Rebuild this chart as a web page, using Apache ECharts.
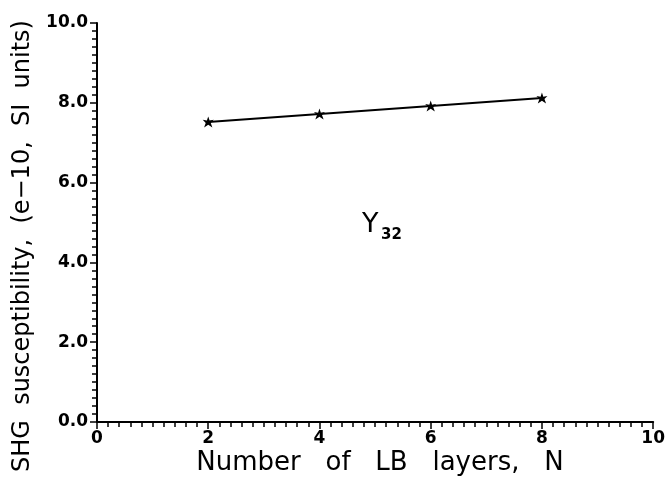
<!DOCTYPE html>
<html>
<head>
<meta charset="utf-8">
<script src="https://cdn.jsdelivr.net/npm/echarts@6/dist/echarts.min.js"></script>
<style>
  html, body { margin: 0; padding: 0; background: #fff; }
  #chart { width: 668px; height: 479px; }
</style>
</head>
<body>
<div id="chart"></div>
<script>
// number of LB layers and measured SHG susceptibility (e-10 SI units)
const layers = [2, 4, 6, 8]
const chi = [7.52, 7.72, 7.92, 8.12]

const xTitle = 'Number   of   LB   layers,   N'
const yTitle = 'SHG  susceptibility,  (e\u221210,  SI  units)'

const star = 'path://M0,-5 L1.2,-1.6 L4.8,-2.2 L2.2,0.3 L3.6,4 L0,1.8 L-3.6,4 L-2.2,0.3 L-4.8,-2.2 L-1.2,-1.6 Z'

const chart = echarts.init(document.getElementById('chart'))
const font = 'DejaVu Sans, sans-serif'

const tickStyle = { color: '#000', width: 1.5 }
const labelStyle = { color: '#000', fontFamily: font, fontWeight: 'bold', fontSize: 17 }

chart.setOption({
  animation: false,
  grid: { left: 97, right: 10, top: 23, bottom: 57 },
  xAxis: {
    type: 'value',
    min: 0,
    max: 10,
    interval: 2,
    axisLine: { lineStyle: { color: '#000', width: 2 } },
    axisTick: { length: 7, lineStyle: tickStyle },
    minorTick: { show: true, splitNumber: 10, length: 5, lineStyle: tickStyle },
    splitLine: { show: false },
    axisLabel: { ...labelStyle, margin: 8 },
  },
  yAxis: {
    type: 'value',
    min: 0,
    max: 10,
    interval: 2,
    axisLine: { lineStyle: { color: '#000', width: 2 } },
    axisTick: { length: 7, lineStyle: tickStyle },
    minorTick: { show: true, splitNumber: 10, length: 5, lineStyle: tickStyle },
    splitLine: { show: false },
    axisLabel: { ...labelStyle, margin: 9, formatter: v => v.toFixed(1) },
  },
  series: [
    {
      type: 'line',
      data: layers.map((n, i) => [n, chi[i]]),
      symbol: star,
      symbolSize: 11,
      itemStyle: { color: '#000' },
      lineStyle: { color: '#000', width: 2 },
    },
  ],
  graphic: [
    {
      type: 'text',
      x: 362,
      y: 225,
      style: { text: 'Y', fontFamily: font, fontSize: 27, fill: '#000', verticalAlign: 'middle' },
    },
    {
      type: 'text',
      x: 381,
      y: 235,
      style: { text: '32', fontFamily: font, fontSize: 15, fontWeight: 'bold', fill: '#000', verticalAlign: 'middle' },
    },
    {
      type: 'text',
      x: 380,
      y: 463,
      style: { text: xTitle, fontFamily: font, fontSize: 26, fill: '#000', align: 'center', verticalAlign: 'middle' },
    },
    {
      type: 'text',
      x: 23,
      y: 246,
      rotation: Math.PI / 2,
      style: { text: yTitle, fontFamily: font, fontSize: 24, fill: '#000', align: 'center', verticalAlign: 'middle' },
    },
  ],
})
</script>
</body>
</html>
